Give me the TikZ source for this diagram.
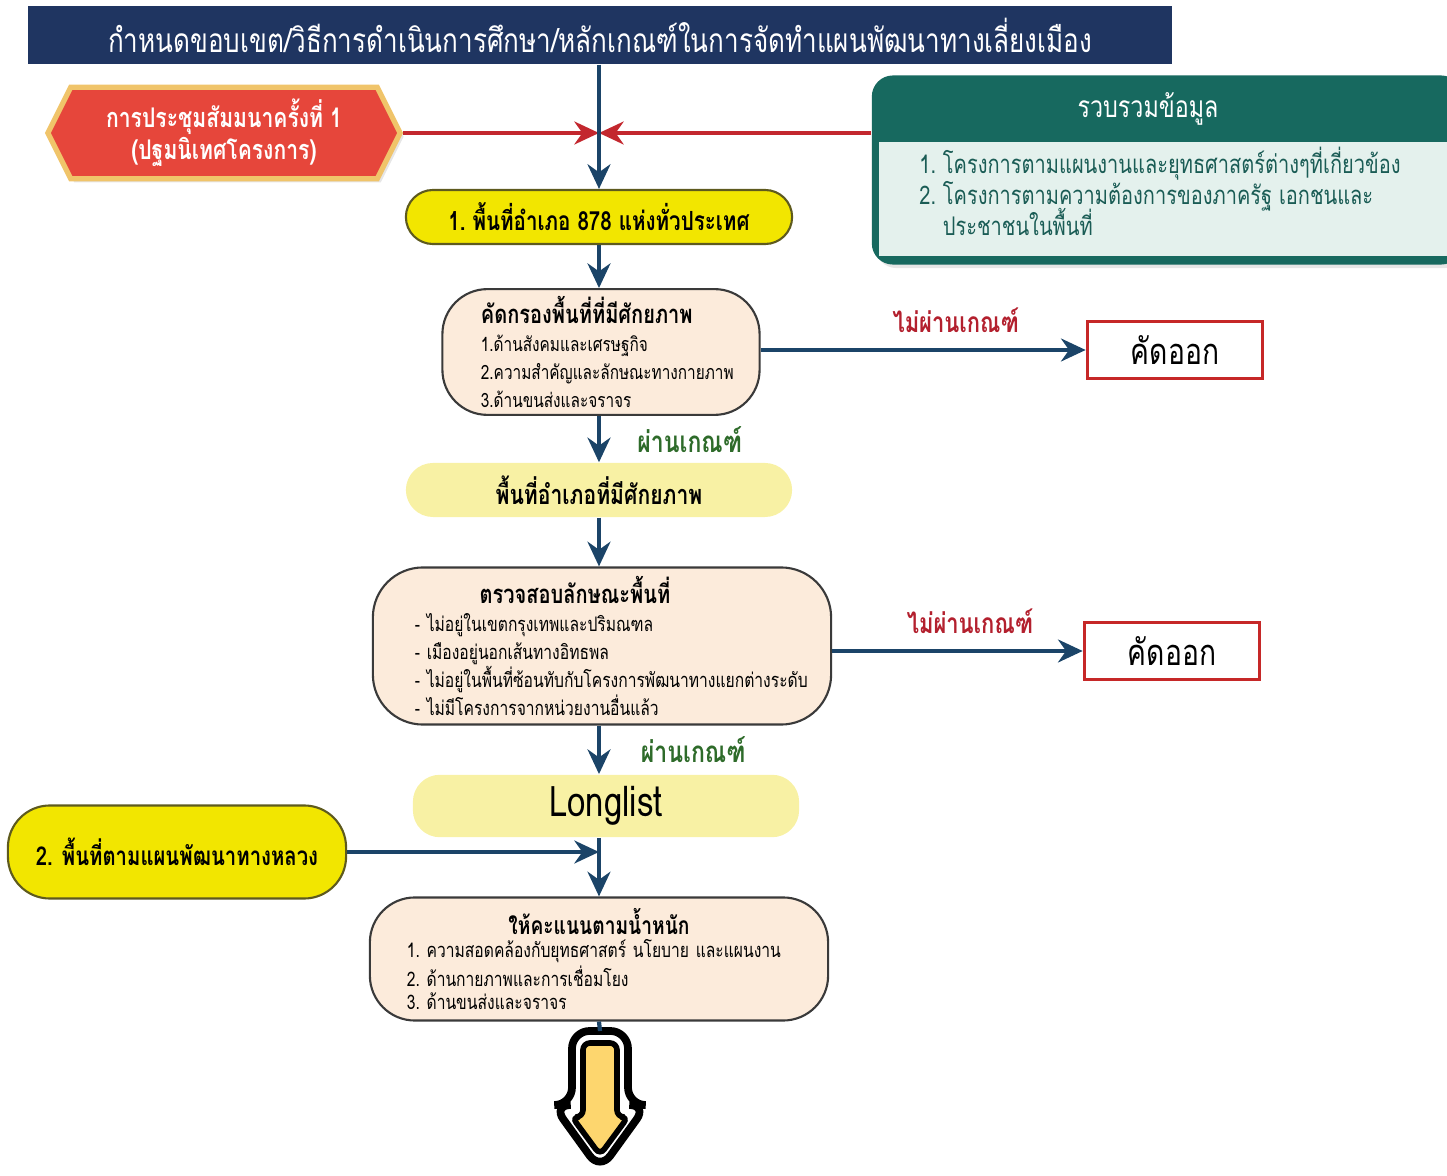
\documentclass[tikz,border=0pt]{standalone}
\usepackage{fontspec}
\setmainfont[Script=Thai, FakeStretch=0.78]{Loma}
\usepackage{xcolor}
\usepackage{tikz}
\usetikzlibrary{shapes,arrows,positioning,calc,arrows.meta,shadows}
\exhyphenpenalty=10000
\lineskiplimit=-20pt
\lineskip=0pt

\definecolor{navy}{HTML}{1F3561}
\definecolor{flow}{HTML}{1B4468}
\definecolor{redln}{HTML}{C3272E}
\definecolor{meetred}{HTML}{E6463B}
\definecolor{meetrim}{HTML}{F0C46A}
\definecolor{gathergreen}{HTML}{17695F}
\definecolor{gatherbg}{HTML}{E4F1ED}
\definecolor{gathertext}{HTML}{1A5C55}
\definecolor{areayellow}{HTML}{F2E600}
\definecolor{paleyellow}{HTML}{F8F1A4}
\definecolor{pilledge}{HTML}{5E5A1E}
\definecolor{cream}{HTML}{FCEBDB}
\definecolor{boxedge}{HTML}{3A3A3A}
\definecolor{cutred}{HTML}{C62828}
\definecolor{failred}{HTML}{B3202E}
\definecolor{passgreen}{HTML}{2E6B2A}
\definecolor{iconyellow}{HTML}{FDD66E}

\begin{document}
\begin{tikzpicture}[x=0.01cm, y=-0.01cm,
        pill/.style={rounded corners=0.27cm, minimum width=3.86cm, minimum height=0.54cm, font=\fontsize{7.5}{9}\selectfont\bfseries},
        yellow pill/.style={pill, fill=areayellow, draw=pilledge, line width=0.6pt},
        pale pill/.style={pill, fill=paleyellow},
        cream box/.style={rectangle, rounded corners=0.45cm, draw=boxedge, line width=0.6pt, fill=cream, align=left, inner sep=2pt},
        cut box/.style={rectangle, draw=cutred, line width=1pt, fill=white, minimum width=1.75cm, minimum height=0.57cm, font=\fontsize{10.3}{12}\selectfont},
        line/.style={draw=flow, line width=1.2pt, -{Stealth[length=7pt, width=6.5pt]}},
        red line/.style={draw=redln, line width=1.4pt, -{Stealth[length=7pt, width=6.5pt]}},
        fail/.style={text=failred, font=\fontsize{8}{10}\selectfont\bfseries},
        pass/.style={text=passgreen, font=\fontsize{8.4}{10}\selectfont\bfseries}]

    \useasboundingbox (0,0) rectangle (1447,1176);

    % heading
    \node [rectangle, fill=navy, text=white, minimum width=11.44cm, minimum height=0.55cm, font=\fontsize{9.5}{12}\selectfont] (scope) at (600,35) {กำหนดขอบเขต/วิธีการดำเนินการศึกษา/หลักเกณฑ์ในการจัดทำแผนพัฒนาทางเลี่ยงเมือง};

    % inputs to the first step
    \node [signal, signal to=west and east, signal pointer angle=127, fill=meetred, draw=meetrim, line width=1.5pt, text=white, minimum width=3.52cm, minimum height=0.8cm, align=center, font=\fontsize{7.7}{9.2}\selectfont\bfseries, drop shadow={opacity=0.2, shadow xshift=1pt, shadow yshift=-1pt}] (meeting) at (224,133) {การประชุมสัมมนาครั้งที่ 1\\(ปฐมนิเทศโครงการ)};
    \node [rectangle, rounded corners=6pt, fill=gathergreen, minimum width=5.9cm, minimum height=1.89cm, drop shadow={opacity=0.2, shadow xshift=1pt, shadow yshift=-1pt}] (gather) at (1167,170) {};
    \node [rectangle, fill=gatherbg, anchor=north west, minimum width=5.9cm, minimum height=1.14cm] (gatherB) at (878,141) {};
    \node [text=white, font=\fontsize{8.5}{10}\selectfont] (gatherT) at (1148,109) {รวบรวมข้อมูล};
    \node [anchor=west, align=left, text=gathertext, font=\fontsize{7.3}{8.8}\selectfont] (gatherL) at (907,191) {1.~โครงการตามแผนงานและยุทธศาสตร์ต่างๆที่เกี่ยวข้อง\\2.~โครงการตามความต้องการของภาครัฐ เอกชนและ\\\phantom{2.~}ประชาชนในพื้นที่};

    % main flow
    \node [yellow pill] (area) at (599,217) {1.~พื้นที่อำเภอ 878 แห่งทั่วประเทศ};
    \node [cream box, minimum width=3.17cm, minimum height=1.17cm, text width=2.4cm, font=\fontsize{5.6}{8}\selectfont] (screen) at (601,352) {{\fontsize{7.3}{9}\selectfont\bfseries คัดกรองพื้นที่ที่มีศักยภาพ}\\1.ด้านสังคมและเศรษฐกิจ\\2.ความสำคัญและลักษณะทางกายภาพ\\3.ด้านขนส่งและจราจร};
    \node [cut box] (cutA) at (1175,350) {คัดออก};
    \node [pale pill, font=\fontsize{7.7}{9}\selectfont\bfseries] (potential) at (599,490) {พื้นที่อำเภอที่มีศักยภาพ};
    \node [cream box, rounded corners=0.5cm, minimum width=4.58cm, minimum height=1.57cm, text width=3.74cm, font=\fontsize{5.7}{8}\selectfont] (check) at (602,646) {{\centering\fontsize{7.3}{9}\selectfont\bfseries ตรวจสอบลักษณะพื้นที่\hspace*{0.54cm}\par}-~ไม่อยู่ในเขตกรุงเทพและปริมณฑล\\-~เมืองอยู่นอกเส้นทางอิทธพล\\-~ไม่อยู่ในพื้นที่ซ้อนทับกับโครงการพัฒนาทางแยกต่างระดับ\\-~ไม่มีโครงการจากหน่วยงานอื่นแล้ว};
    \node [cut box] (cutB) at (1172,651) {คัดออก};
    \node [pale pill, font=\fontsize{12}{14}\selectfont] (longlist) at (606,806) {Longlist};
    \node [yellow pill, rounded corners=0.42cm, minimum width=3.38cm, minimum height=0.93cm, font=\fontsize{7.4}{9}\selectfont\bfseries] (highway) at (177,852) {2. พื้นที่ตามแผนพัฒนาทางหลวง};
    \node [cream box, minimum width=4.58cm, minimum height=1.23cm, text width=3.84cm, font=\fontsize{5.7}{6.6}\selectfont] (score) at (599,959) {{\centering\fontsize{7}{9}\selectfont\bfseries ให้คะแนนตามน้ำหนัก\par}1.~ความสอดคล้องกับยุทธศาสตร์~นโยบาย~และแผนงาน\\2.~ด้านกายภาพและการเชื่อมโยง\\3.~ด้านขนส่งและจราจร};

    % big arrow icon
    \coordinate (bigarrow) at (600,1031);
    \filldraw [fill=white, draw=black, line width=2.2pt, rounded corners=5pt] (572,1031) -- (628,1031) -- (628,1105) -- (647,1105) -- (600,1170) -- (553,1105) -- (572,1105) -- cycle;
    \filldraw [fill=iconyellow, draw=black, line width=1.6pt, rounded corners=2pt] (583,1043) -- (617,1043) -- (617,1117) -- (628,1117) -- (600,1155) -- (572,1117) -- (583,1117) -- cycle;

    % connectors
    \path [red line] (meeting.east) -- (area.north |- meeting.east);
    \path [red line] (gather.west |- meeting.east) -- (area.north |- meeting.east);
    \path [line] (area.north |- scope.south) -- (area.north);
    \path [line] (area.south) -- (area.south |- screen.north);
    \path [line] (screen.east |- cutA.west) -- node [fail, pos=0.6, above=1pt] {ไม่ผ่านเกณฑ์} (cutA.west);
    \path [line] (area |- screen.south) -- node [pass, right=7pt] {ผ่านเกณฑ์} (area |- potential.north);
    \path [line] (area |- potential.south) -- (area |- check.north);
    \path [line] (check.east |- cutB.west) -- node [fail, pos=0.55, above=1pt] {ไม่ผ่านเกณฑ์} (cutB.west);
    \path [line] (area |- check.south) -- node [pass, right=8pt] {ผ่านเกณฑ์} (area |- longlist.north);
    \draw [flow, line width=1.2pt] (area |- longlist.south) -- (area |- highway.east);
    \path [line] (highway.east) -- (area |- highway.east);
    \path [line] (area |- highway.east) -- (area |- score.north);
    \draw [flow, line width=1.2pt] (area |- score.south) -- (bigarrow);
\end{tikzpicture}
\end{document}
